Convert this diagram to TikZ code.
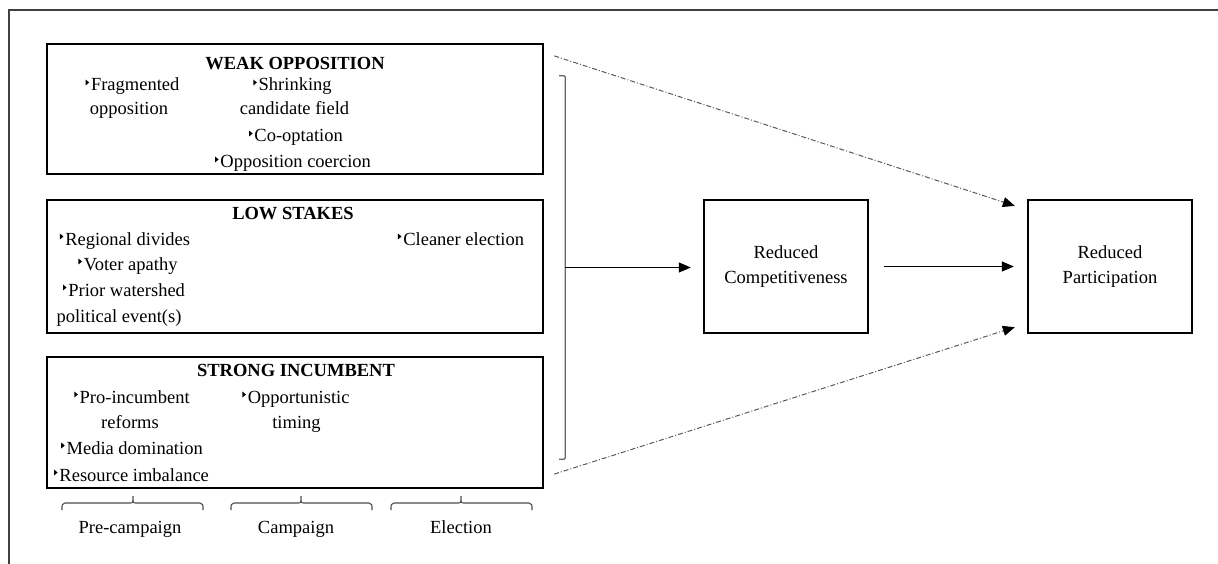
\documentclass[tikz,border=0pt]{standalone}
\usepackage{fontspec}
\setmainfont{Liberation Serif}
\usetikzlibrary{arrows.meta,calc}
\newcommand\tbul{\tikz[baseline=0pt]\fill (0,0.30em) -- (0,0.62em) -- (0.19em,0.46em) -- cycle;\hspace{0.1em}}
\begin{document}
\begin{tikzpicture}[x=1pt,y=-1pt,
  box/.style={draw=black, line width=2.3pt, inner sep=0pt},
  txt/.style={anchor=base, font=\fontsize{18.5}{25.5}\selectfont, inner sep=0pt},
  ttl/.style={txt, font=\fontsize{18.5}{25.5}\selectfont\bfseries},
  arr/.style={line width=1.2pt, -{Triangle[length=12pt,width=10pt]}},
  dd/.style={draw=black!65, line width=1pt, dash pattern=on 5pt off 2pt on 1pt off 2pt,
    -{Triangle[length=12pt,width=10pt,color=black]}},
  brk/.style={draw=black!60, line width=1.2pt, rounded corners=1pt},
  brc/.style={draw=black!70, line width=1.1pt},
  frame/.style={draw=black!75, line width=1.8pt}]
\useasboundingbox (0,0) rectangle (1218,564);
% outer frame (partially visible)
\draw[frame] (9,564) -- (9,10) -- (1218,10);
% boxes
\node[box, minimum width=496pt, minimum height=130pt] (wo) at (295,109) {};
\node[box, minimum width=496pt, minimum height=133pt] (ls) at (295,266.5) {};
\node[box, minimum width=496pt, minimum height=131pt] (si) at (295,422.5) {};
\node[box, minimum width=164pt, minimum height=133pt, align=center,
      font=\fontsize{18.5}{25.5}\selectfont] (rc) at (786,266.5) {Reduced\\Competitiveness};
\node[box, minimum width=164pt, minimum height=133pt, align=center,
      font=\fontsize{18.5}{25.5}\selectfont] (rp) at (1110,266.5) {Reduced\\Participation};
% weak opposition
\node[ttl] (woT) at (295,70) {WEAK OPPOSITION};
\node[txt] (wo1) at (132.5,91) {\tbul Fragmented};
\node[txt] (wo2) at (129,115) {opposition};
\node[txt] (wo3) at (292.5,91) {\tbul Shrinking};
\node[txt] (wo4) at (294.5,115) {candidate field};
\node[txt] (wo5) at (296,142) {\tbul Co-optation};
\node[txt] (wo6) at (293,168) {\tbul Opposition coercion};
% low stakes
\node[ttl] (lsT) at (293,220) {LOW STAKES};
\node[txt] (ls1) at (125,245) {\tbul Regional divides};
\node[txt] (ls2) at (128,270) {\tbul Voter apathy};
\node[txt] (ls3) at (124,296) {\tbul Prior watershed};
\node[txt] (ls4) at (119,322) {political event(s)};
\node[txt] (ls5) at (461,245) {\tbul Cleaner election};
% strong incumbent
\node[ttl] (siT) at (296,376) {STRONG INCUMBENT};
\node[txt] (si1) at (132,403) {\tbul Pro-incumbent};
\node[txt] (si2) at (130,428) {reforms};
\node[txt] (si3) at (132,454) {\tbul Media domination};
\node[txt] (si4) at (131.5,481) {\tbul Resource imbalance};
\node[txt] (si5) at (296,403) {\tbul Opportunistic};
\node[txt] (si6) at (296.5,428) {timing};
% phase labels and braces
\node[txt] (pc) at (130,533) {Pre-campaign};
\node[txt] (cp) at (296,533) {Campaign};
\node[txt] (el) at (461,533) {Election};
\foreach \a/\m/\b in {62/133/203, 231/301/372, 391/461/532}{
  \draw[brc] (\a,510) .. controls (\a,504) .. (\a+3,503) -- (\m-3,503)
     .. controls (\m,503) .. (\m,496) .. controls (\m,503) .. (\m+3,503)
     -- (\b-3,503) .. controls (\b,504) .. (\b,510);
}
% bracket
\coordinate (bt) at ($(wo.north east)+(21,33)$);
\coordinate (bb) at ($(si.south east)+(21,-30)$);
\coordinate (bm) at ($(bt)!0.5!(bb)$);
\draw[brk] ($(bt)+(-6,0)$) -- (bt) -- (bb) -- ($(bb)+(-6,0)$);
% connectors
\draw[arr, shorten >=12pt] (bm) -- (rc.west |- bm);
\draw[arr, shorten <=15pt, shorten >=13pt] (rc.east) -- (rp.west);
\coordinate (d1s) at ($(wo.north east)+(10,13)$);
\coordinate (d1e) at ($(rp.north west)+(-12,7)$);
\coordinate (d2s) at ($(si.south east)+(10,-15)$);
\coordinate (d2e) at ($(rp.south west)+(-12,-7)$);
\draw[dd] (d1s) -- (d1e);
\draw[dd] (d2s) -- (d2e);
\end{tikzpicture}
\end{document}
